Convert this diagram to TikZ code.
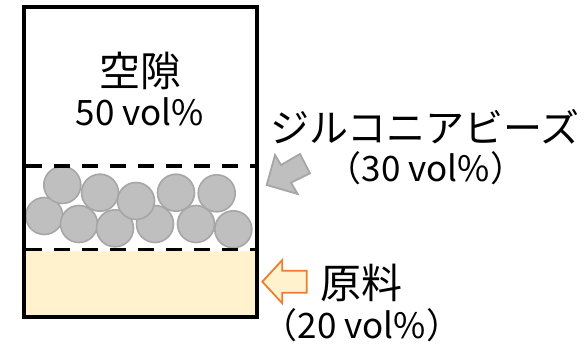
\documentclass[tikz,border=0pt]{standalone}
\usepackage{fontspec}
\setmainfont{Noto Sans CJK JP}
\begin{document}
\begin{tikzpicture}[x=1pt,y=-1pt,
  bead/.style={circle,draw=beadline,fill=beadfill,line width=1.6pt,minimum size=37pt,inner sep=0pt},
  lbl/.style={inner sep=0pt},
  kanji/.style={lbl,font=\fontsize{41}{46}\selectfont},
  kana/.style={lbl,font=\fontsize{39}{44}\selectfont},
  latin/.style={lbl,font=\fontsize{35}{40}\selectfont},
  sep/.style={line width=3.2pt,dash pattern=on 16pt off 12pt}]
\definecolor{beadfill}{HTML}{BFBFBF}
\definecolor{beadline}{HTML}{A6A6A6}
\definecolor{raw}{HTML}{FFF2CC}
\definecolor{rawline}{HTML}{ED7D31}
\useasboundingbox (0,0) rectangle (585,345);
% raw material layer
\fill[raw] (25,251) rectangle (257,316);
% beads
\node[bead] (b2) at (44.3,216) {};
\node[bead] (b1) at (62.3,185) {};
\node[bead] (b4) at (79,224) {};
\node[bead] (b3) at (100,192.7) {};
\node[bead] (b6) at (115,228.3) {};
\node[bead] (b7) at (155,224) {};
\node[bead] (b5) at (136,201) {};
\node[bead] (b10) at (196,224) {};
\node[bead] (b8) at (176,192.7) {};
\node[bead] (b11) at (233.3,229.3) {};
\node[bead] (b9) at (216.7,193.3) {};
% dashed separators
\draw[sep] (26,166) -- (257,166);
\draw[sep] (26,249.5) -- (257,249.5);
% container
\draw[line width=3.2pt] (24,7) rectangle (257,317);
% labels
\node[kanji] (void) at (140,71) {空隙};
\node[latin] (voidpct) at (140,112) {50 vol\%};
\node[kana] (beads) at (425,127) {ジルコニアビーズ};
\node[latin] (beadspct) at (426,168) {（30 vol\%）};
\node[kanji] (rawlbl) at (361,283) {原料};
\node[latin] (rawpct) at (362,325) {（20 vol\%）};
% gray block arrow
\draw[draw=beadline,fill=beadfill,line width=1.8pt,line join=miter]
  (266.7,185) -- (275,155) -- (281,165) -- (300,154) -- (310,173.3) -- (291,182.7) -- (297.7,194) -- cycle;
% orange block arrow
\draw[draw=rawline,fill=raw,line width=1.8pt,line join=miter]
  (262.3,281.7) -- (282.3,260) -- (282.3,270.7) -- (306.7,270.7) -- (306.7,292.7) -- (282.3,292.7) -- (282.3,303.3) -- cycle;
\end{tikzpicture}
\end{document}
